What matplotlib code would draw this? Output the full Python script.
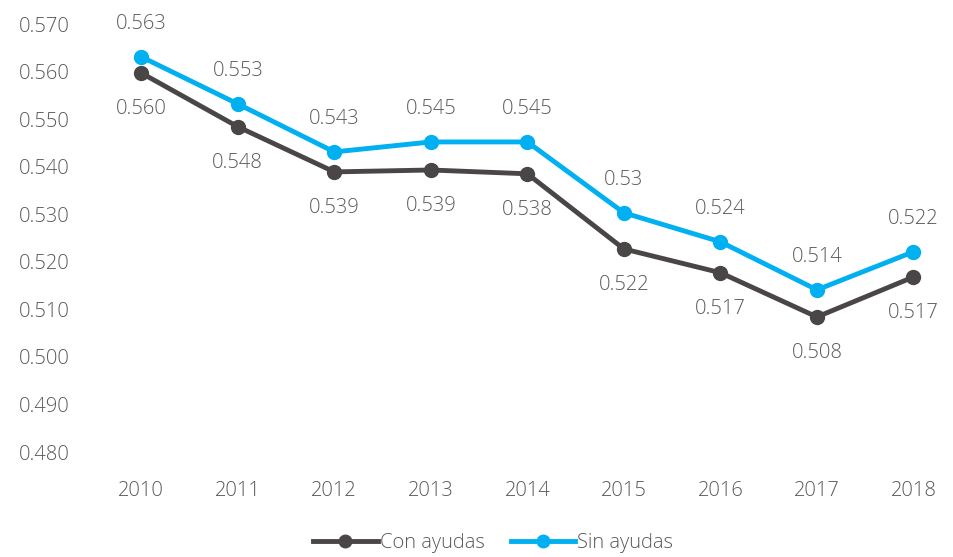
import matplotlib.pyplot as plt

years = ['2010', '2011', '2012', '2013', '2014', '2015', '2016', '2017', '2018']
con_ayudas = [0.5597, 0.5484, 0.5389, 0.5393, 0.5385, 0.5227, 0.5177, 0.5084, 0.5168]
sin_ayudas = [0.5631, 0.5532, 0.5431, 0.5452, 0.5452, 0.5303, 0.5242, 0.5141, 0.5221]
con_labels = ['0.560', '0.548', '0.539', '0.539', '0.538', '0.522', '0.517', '0.508', '0.517']
sin_labels = ['0.563', '0.553', '0.543', '0.545', '0.545', '0.53', '0.524', '0.514', '0.522']
yticks = [0.480, 0.490, 0.500, 0.510, 0.520, 0.530, 0.540, 0.550, 0.560, 0.570]

plt.rcParams['font.family'] = ['Open Sans', 'DejaVu Sans']
plt.rcParams['font.weight'] = 'light'
grey = '#595959'
dark = '#4a4646'
blue = '#00b0f0'
fs = 14.5

W, H = 954, 557
fig = plt.figure(figsize=(W / 100, H / 100), dpi=100)
ax = fig.add_axes([93 / W, 1 - 452 / H, (954 - 93) / W, (452 - 24) / H])

x = list(range(len(years)))
ax.plot(x, con_ayudas, color=dark, lw=3.5, marker='o', ms=10, label='Con ayudas', zorder=3)
ax.plot(x, sin_ayudas, color=blue, lw=3.5, marker='o', ms=10, label='Sin ayudas', zorder=4)

for i in x:
    ax.annotate(con_labels[i], (i, con_ayudas[i]), xytext=(0, -36), textcoords='offset pixels',
                ha='center', va='center', fontsize=fs, color=grey)
    ax.annotate(sin_labels[i], (i, sin_ayudas[i]), xytext=(0, 33), textcoords='offset pixels',
                ha='center', va='center', fontsize=fs, color=grey)

ax.set_ylim(0.480, 0.570)
ax.set_yticks(yticks)
ax.set_yticklabels(['%.3f' % v for v in yticks])
ax.set_xlim(-0.5, 8.42)
ax.set_xticks(x)
ax.set_xticklabels(years)
ax.tick_params(length=0, labelsize=fs, labelcolor=grey)
ax.tick_params(axis='x', pad=21)
ax.tick_params(axis='y', pad=17)
for s in ax.spines.values():
    s.set_visible(False)

fig.legend(loc='center', bbox_to_anchor=(0.517, 1 - 543 / H), ncol=2, frameon=False,
           fontsize=fs, labelcolor=grey, handlelength=3.2, handletextpad=0.1, columnspacing=1.3,
           markerscale=0.9)

fig.savefig('out.png', dpi=100)
